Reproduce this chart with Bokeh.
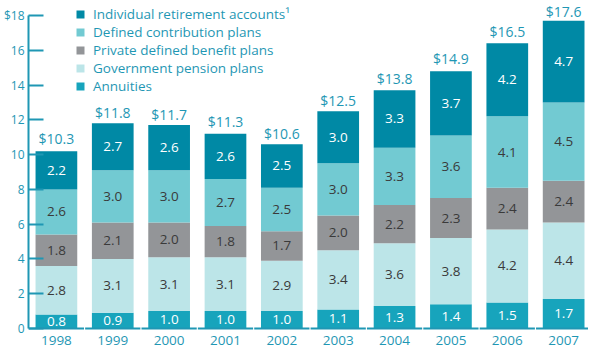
from bokeh.plotting import figure
from bokeh.models import Range1d, FixedTicker, Legend, LegendItem, ColumnDataSource
from bokeh.core.properties import value
from bokeh.embed import file_html
from bokeh.resources import INLINE

years = ["1998", "1999", "2000", "2001", "2002", "2003", "2004", "2005", "2006", "2007"]
annuities = [0.8, 0.9, 1.0, 1.0, 1.0, 1.1, 1.3, 1.4, 1.5, 1.7]
government = [2.8, 3.1, 3.1, 3.1, 2.9, 3.4, 3.6, 3.8, 4.2, 4.4]
private_db = [1.8, 2.1, 2.0, 1.8, 1.7, 2.0, 2.2, 2.3, 2.4, 2.4]
defined_contrib = [2.6, 3.0, 3.0, 2.7, 2.5, 3.0, 3.3, 3.6, 4.1, 4.5]
ira = [2.2, 2.7, 2.6, 2.6, 2.5, 3.0, 3.3, 3.7, 4.2, 4.7]
totals = [10.3, 11.8, 11.7, 11.3, 10.6, 12.5, 13.8, 14.9, 16.5, 17.6]
y_ticks = [0, 2, 4, 6, 8, 10, 12, 14, 16, 18]

series = [
    ("Annuities", annuities, "#17A4BC", "white"),
    ("Government pension plans", government, "#BCE5E8", "#3a3a3a"),
    ("Private defined benefit plans", private_db, "#939598", "#3a3a3a"),
    ("Defined contribution plans", defined_contrib, "#72CAD2", "#3a3a3a"),
    ("Individual retirement accounts\u00b9", ira, "#0089A5", "white"),
]

TEAL = "#1F97B4"
FONT = "Open Sans"

p = figure(width=588, height=350, output_backend="svg", toolbar_location=None,
           x_range=Range1d(-0.495, 9.441), y_range=Range1d(-1.265, 18.863),
           min_border_left=26, min_border_right=0, min_border_top=0, min_border_bottom=0)
p.outline_line_color = None
p.xgrid.visible = False
p.ygrid.visible = False
p.xaxis.visible = False

x = list(range(len(years)))
bottom = [0.0] * len(years)
renderers = []
for name, vals, fill, tcol in series:
    top = [b + v for b, v in zip(bottom, vals)]
    src = ColumnDataSource(dict(x=x, bottom=bottom, top=top,
                                mid=[(b + t) / 2 for b, t in zip(bottom, top)],
                                lab=["%.1f" % v for v in vals]))
    r = p.vbar(x="x", bottom="bottom", top="top", width=0.74, source=src,
               fill_color=fill, line_color=None)
    p.text(x="x", y="mid", text="lab", source=src, text_align="center",
           text_baseline="middle", text_color=tcol, text_font=value(FONT),
           text_font_size="13.5px")
    renderers.append((name, r))
    bottom = top

tsrc = ColumnDataSource(dict(x=x, y=totals, lab=["$%.1f" % t for t in totals]))
p.text(x="x", y="y", text="lab", source=tsrc, text_align="center",
       text_baseline="bottom", y_offset=-1, text_color=TEAL,
       text_font=value(FONT), text_font_size="14px")

# baseline drawn per category, with small gaps between categories
base = ColumnDataSource(dict(x0=[i - 0.49 for i in x], x1=[i + 0.49 for i in x],
                             y=[0] * len(x), lab=years, xc=x))
p.segment(x0="x0", y0="y", x1="x1", y1="y", source=base,
          line_color=TEAL, line_width=2)
p.text(x="xc", y="y", text="lab", source=base, text_align="center",
       text_baseline="middle", y_offset=12, text_color=TEAL,
       text_font=value(FONT), text_font_size="13.5px")

legend = Legend(items=[LegendItem(label=n, renderers=[r]) for n, r in reversed(renderers)],
                location=(47, 255), orientation="vertical")
legend.background_fill_alpha = 0
legend.border_line_color = None
legend.padding = 0
legend.margin = 0
legend.spacing = 0
legend.glyph_width = 10
legend.glyph_height = 10
legend.label_height = 17
legend.label_standoff = 8
legend.label_text_color = TEAL
legend.label_text_font = FONT
legend.label_text_font_size = "13.5px"
p.add_layout(legend, "center")

yax = p.yaxis[0]
yax.ticker = FixedTicker(ticks=y_ticks)
yax.bounds = (0, 18)
yax.major_label_overrides = {18: "$18"}
yax.axis_line_color = TEAL
yax.axis_line_width = 2
yax.major_tick_line_color = TEAL
yax.major_tick_line_width = 2
yax.major_tick_in = 15
yax.major_tick_out = 0
yax.minor_tick_line_color = None
yax.major_label_text_color = TEAL
yax.major_label_text_font = FONT
yax.major_label_text_font_size = "12px"
yax.major_label_standoff = 4

open("out.html", "w").write(file_html(p, INLINE))
